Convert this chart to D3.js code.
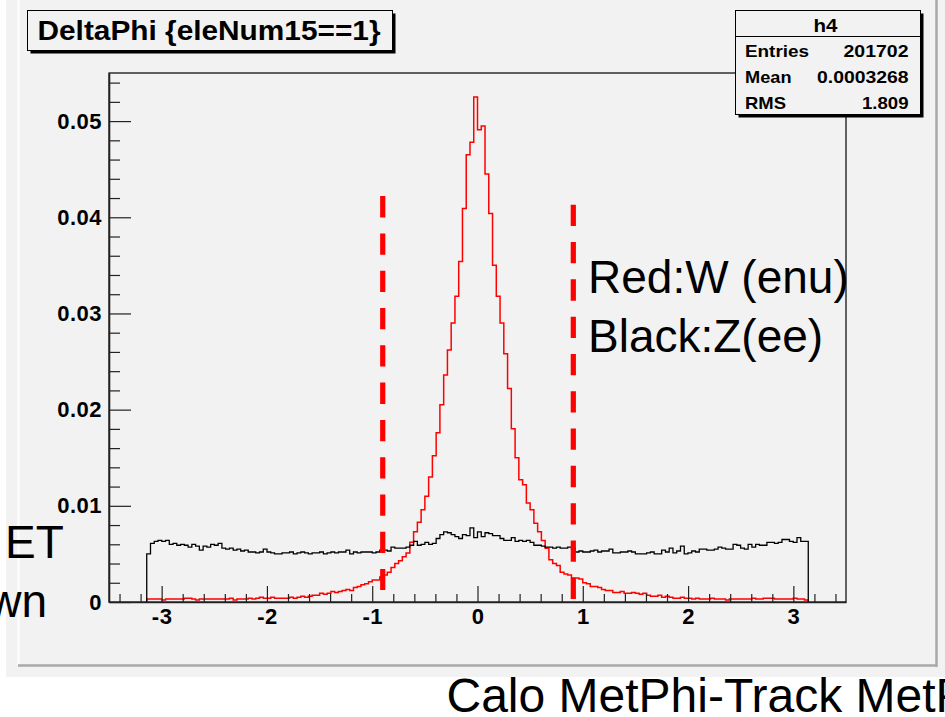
<!DOCTYPE html>
<html>
<head>
<meta charset="utf-8">
<script src="https://cdn.jsdelivr.net/npm/d3@7"></script>
<style>
  body { margin: 0; background: #fff; }
  svg { display: block; }
</style>
</head>
<body>
<svg id="canvas" width="945" height="717"></svg>
<script>
// ---- histogram contents: DeltaPhi, 176 bins over [-pi, pi], normalised ----
const redW = [
  0.0003,0.0003,0.0003,0.0003,0.0002,0.0003,0.0003,0.0003,0.0003,0.0003,
  0.0004,0.0004,0.0003,0.0002,0.0003,0.0003,0.0003,0.0003,0.0003,0.0003,
  0.0003,0.0003,0.0004,0.0002,0.0003,0.0003,0.0003,0.0004,0.0003,0.0004,
  0.0005,0.0004,0.0004,0.0005,0.0004,0.0004,0.0004,0.0004,0.0005,0.0004,
  0.0005,0.0006,0.0005,0.0006,0.0007,0.0007,0.0009,0.0008,0.0009,0.0011,
  0.0010,0.0011,0.0012,0.0013,0.0012,0.0015,0.0016,0.0018,0.0019,0.0021,
  0.0023,0.0023,0.0026,0.0028,0.0031,0.0036,0.0040,0.0043,0.0047,0.0051,
  0.0062,0.0073,0.0083,0.0096,0.0110,0.0130,0.0152,0.0176,0.0205,0.0236,
  0.0262,0.0290,0.0318,0.0354,0.0409,0.0465,0.0478,0.0525,0.0491,0.0495,
  0.0445,0.0404,0.0350,0.0318,0.0290,0.0258,0.0222,0.0180,0.0150,0.0127,
  0.0122,0.0103,0.0096,0.0082,0.0073,0.0064,0.0056,0.0044,0.0040,0.0038,
  0.0031,0.0029,0.0028,0.0025,0.0025,0.0024,0.0020,0.0019,0.0016,0.0016,
  0.0015,0.0013,0.0012,0.0012,0.0010,0.0010,0.0011,0.0009,0.0009,0.0010,
  0.0009,0.0008,0.0009,0.0007,0.0006,0.0006,0.0007,0.0005,0.0006,0.0005,
  0.0004,0.0004,0.0005,0.0004,0.0004,0.0003,0.0004,0.0003,0.0003,0.0003,
  0.0004,0.0003,0.0003,0.0003,0.0002,0.0003,0.0003,0.0003,0.0003,0.0003,
  0.0003,0.0004,0.0003,0.0003,0.0004,0.0004,0.0004,0.0003,0.0003,0.0003,
  0.0003,0.0003,0.0004,0.0003,0.0003,0.0002
];
const blackZ = [
  0.0050,0.0061,0.0063,0.0064,0.0063,0.0064,0.0060,0.0061,0.0059,0.0060,
  0.0059,0.0057,0.0060,0.0058,0.0054,0.0058,0.0057,0.0060,0.0059,0.0061,
  0.0056,0.0055,0.0056,0.0054,0.0055,0.0053,0.0054,0.0052,0.0052,0.0051,
  0.0052,0.0055,0.0052,0.0051,0.0050,0.0050,0.0051,0.0051,0.0052,0.0050,
  0.0051,0.0052,0.0051,0.0050,0.0051,0.0051,0.0052,0.0050,0.0051,0.0052,
  0.0051,0.0052,0.0052,0.0054,0.0050,0.0052,0.0051,0.0052,0.0052,0.0052,
  0.0051,0.0052,0.0054,0.0054,0.0053,0.0057,0.0056,0.0056,0.0056,0.0057,
  0.0059,0.0063,0.0059,0.0060,0.0062,0.0060,0.0061,0.0066,0.0070,0.0073,
  0.0072,0.0070,0.0068,0.0066,0.0070,0.0069,0.0077,0.0067,0.0073,0.0068,
  0.0072,0.0071,0.0069,0.0069,0.0066,0.0064,0.0064,0.0067,0.0063,0.0064,
  0.0063,0.0064,0.0062,0.0059,0.0059,0.0058,0.0057,0.0057,0.0056,0.0057,
  0.0056,0.0056,0.0057,0.0056,0.0052,0.0053,0.0052,0.0052,0.0053,0.0054,
  0.0052,0.0053,0.0053,0.0055,0.0051,0.0051,0.0052,0.0052,0.0053,0.0052,
  0.0050,0.0050,0.0050,0.0051,0.0052,0.0050,0.0050,0.0054,0.0052,0.0056,
  0.0051,0.0053,0.0058,0.0050,0.0051,0.0053,0.0052,0.0055,0.0055,0.0054,
  0.0054,0.0055,0.0057,0.0056,0.0055,0.0055,0.0060,0.0059,0.0056,0.0055,
  0.0060,0.0057,0.0060,0.0059,0.0059,0.0062,0.0062,0.0061,0.0062,0.0065,
  0.0065,0.0063,0.0062,0.0067,0.0063,0.0063
];
const histRange = [-Math.PI, Math.PI];

// axis ticks and labels
const xTicks = [-3, -2, -1, 0, 1, 2, 3];
const xTickLabels = ["-3", "-2", "-1", "0", "1", "2", "3"];
const yTicks = [0, 0.01, 0.02, 0.03, 0.04, 0.05];
const yTickLabels = ["0", "0.01", "0.02", "0.03", "0.04", "0.05"];

// cut lines (x position, top value, bottom value)
const cutX = [-0.90, 0.91];
const cutTop = [0.0422, 0.0413];
const cutBottom = [0.00125, 0.0002];

// stats box
const statsTitle = "h4";
const statsNames = ["Entries", "Mean", "RMS"];
const statsValues = ["201702", "0.0003268", "1.809"];
const titleText = "DeltaPhi {eleNum15==1}";

// ---- drawing ----
const FONT = "'Liberation Sans', Arial, Helvetica, sans-serif";
const BG = "#f2f2f2";
const svg = d3.select("#canvas");

// canvas and pad
svg.append("rect").attr("x", 0).attr("y", 0).attr("width", 945).attr("height", 717).attr("fill", "#fff");
svg.append("rect").attr("x", 6).attr("y", 0).attr("width", 939).attr("height", 677).attr("fill", BG);
svg.append("line").attr("x1", 18.5).attr("x2", 18.5).attr("y1", 0).attr("y2", 665)
  .attr("stroke", "#fcfcfc").attr("stroke-width", 2.5);
svg.append("line").attr("x1", 18).attr("x2", 937).attr("y1", 665.5).attr("y2", 665.5)
  .attr("stroke", "#a9a9a9").attr("stroke-width", 2.5);
svg.append("line").attr("x1", 936.5).attr("x2", 936.5).attr("y1", 0).attr("y2", 667)
  .attr("stroke", "#a9a9a9").attr("stroke-width", 2.5);

const x = d3.scaleLinear().domain([-3.5, 3.5]).range([109, 846]);
const y = d3.scaleLinear().domain([0, 0.055]).range([602, 73]);

// frame
svg.append("rect").attr("x", x(-3.5)).attr("y", y(0.055))
  .attr("width", x(3.5) - x(-3.5)).attr("height", y(0) - y(0.055))
  .attr("fill", BG).attr("stroke", "#000").attr("stroke-width", 1.2);

// step outline of a histogram
function stepPoints(values) {
  const n = values.length;
  const w = (histRange[1] - histRange[0]) / n;
  const pts = [[histRange[0], 0]];
  values.forEach((v, i) => {
    const lo = histRange[0] + i * w;
    pts.push([lo, v], [lo + w, v]);
  });
  pts.push([histRange[1], 0]);
  return pts;
}
const stepLine = d3.line().x(d => x(d[0])).y(d => y(d[1]));

svg.append("path").attr("d", stepLine(stepPoints(redW)))
  .attr("fill", "none").attr("stroke", "#ff0000").attr("stroke-width", 1.5)
  .attr("stroke-linejoin", "miter");
svg.append("path").attr("d", stepLine(stepPoints(blackZ)))
  .attr("fill", "none").attr("stroke", "#000").attr("stroke-width", 1.3)
  .attr("stroke-linejoin", "miter");

// axes
const xMinor = d3.range(-17, 18).filter(k => k % 5 !== 0).map(k => k * 0.2);
const yMinor = d3.range(1, 28).filter(k => k % 5 !== 0).map(k => k * 0.002);

function styleAxis(g) {
  g.attr("font-family", FONT).attr("font-size", 22).attr("font-weight", "bold");
  g.selectAll(".tick line").attr("stroke", "#222").attr("stroke-width", 1.2);
  g.selectAll("text").attr("fill", "#000").attr("letter-spacing", "0.5px");
  g.select(".domain").attr("stroke", "#222").attr("stroke-width", 1.6);
}

svg.append("g").attr("transform", `translate(0,${y(0)})`)
  .call(d3.axisBottom(x).tickValues(xMinor).tickSize(-8).tickFormat(""))
  .call(g => g.select(".domain").remove())
  .call(styleAxis);
svg.append("g").attr("transform", `translate(0,${y(0)})`)
  .call(d3.axisBottom(x).tickValues(xTicks).tickSizeInner(-16).tickSizeOuter(0).tickPadding(6)
    .tickFormat((d, i) => xTickLabels[i]))
  .call(styleAxis);

svg.append("g").attr("transform", `translate(${x(-3.5)},0)`)
  .call(d3.axisLeft(y).tickValues(yMinor).tickSize(-11).tickFormat(""))
  .call(g => g.select(".domain").remove())
  .call(styleAxis);
svg.append("g").attr("transform", `translate(${x(-3.5)},0)`)
  .call(d3.axisLeft(y).tickValues(yTicks).tickSizeInner(-22).tickSizeOuter(0).tickPadding(7)
    .tickFormat((d, i) => yTickLabels[i]))
  .call(styleAxis);

// dashed cut lines
cutX.forEach((cx, i) => {
  svg.append("line")
    .attr("x1", x(cx)).attr("x2", x(cx))
    .attr("y1", y(cutTop[i])).attr("y2", y(cutBottom[i]))
    .attr("stroke", "#ff0000").attr("stroke-width", 5.2)
    .attr("stroke-dasharray", "21.3 16");
});

// title box with shadow
function shadowBox(x0, y0, w, h) {
  svg.append("rect").attr("x", x0 + 3).attr("y", y0 + 3).attr("width", w).attr("height", h).attr("fill", "#000");
  svg.append("rect").attr("x", x0).attr("y", y0).attr("width", w).attr("height", h)
    .attr("fill", BG).attr("stroke", "#000").attr("stroke-width", 1);
}
shadowBox(27.5, 10.5, 365, 40);
svg.append("text").attr("x", 37.5).attr("y", 39.5)
  .attr("font-family", FONT).attr("font-size", 27).attr("font-weight", "bold")
  .attr("textLength", 343).attr("lengthAdjust", "spacingAndGlyphs")
  .text(titleText);

// stats box
shadowBox(735.5, 10.5, 185, 104);
svg.append("line").attr("x1", 735.5).attr("x2", 920.5).attr("y1", 36.5).attr("y2", 36.5)
  .attr("stroke", "#000").attr("stroke-width", 1);
svg.append("text").attr("x", 825.5).attr("y", 32).attr("text-anchor", "middle")
  .attr("font-family", FONT).attr("font-size", 19).attr("font-weight", "bold")
  .attr("textLength", 24).attr("lengthAdjust", "spacingAndGlyphs")
  .text(statsTitle);
const nameW = [64, 46.5, 41];
const valW = [65, 91.5, 46.5];
const rowY = [56.7, 83, 109];
statsNames.forEach((name, i) => {
  svg.append("text").attr("x", 745).attr("y", rowY[i])
    .attr("font-family", FONT).attr("font-size", 17).attr("font-weight", "bold")
    .attr("textLength", nameW[i]).attr("lengthAdjust", "spacingAndGlyphs")
    .text(name);
  svg.append("text").attr("x", 908.5 - valW[i]).attr("y", rowY[i])
    .attr("font-family", FONT).attr("font-size", 17).attr("font-weight", "bold")
    .attr("textLength", valW[i]).attr("lengthAdjust", "spacingAndGlyphs")
    .text(statsValues[i]);
});

// annotations
const notes = [
  { t: "Red:W (enu)", x: 588, y: 292.7, a: "start", s: 46 },
  { t: "Black:Z(ee)", x: 588, y: 351.7, a: "start", s: 46 },
  { t: "ET", x: 5, y: 558.3, a: "start", s: 46 },
  { t: "wn", x: 47, y: 616.7, a: "end", s: 46 },
  { t: "Calo MetPhi-Track MetPhi", x: 446.5, y: 711.7, a: "start", s: 48 }
];
notes.forEach(n => {
  svg.append("text").attr("x", n.x).attr("y", n.y).attr("text-anchor", n.a)
    .attr("font-family", FONT).attr("font-size", n.s).attr("fill", "#000")
    .text(n.t);
});
</script>
</body>
</html>
